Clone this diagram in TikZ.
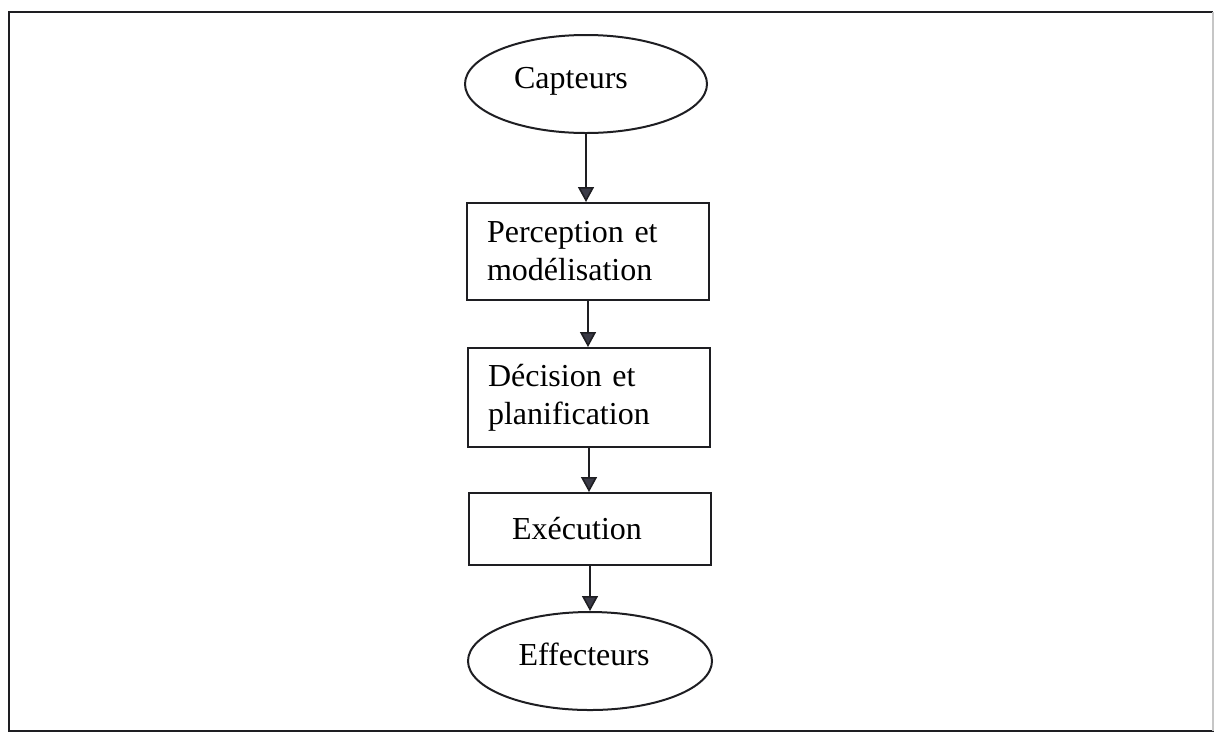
\documentclass[tikz,border=0pt]{standalone}
\usepackage{fontspec}
\setmainfont{Liberation Serif}
\usetikzlibrary{shapes.geometric,arrows.meta}
\definecolor{ink}{HTML}{1E1E22}
\definecolor{headfill}{HTML}{3A3A46}
\begin{document}
\begin{tikzpicture}[x=1pt,y=-1pt,
  txt/.style={font=\fontsize{32pt}{38pt}\selectfont, text=black},
  oval/.style={ellipse, draw=ink, line width=2pt, txt, minimum width=242pt, minimum height=98pt, inner sep=0pt, text height=22pt, text depth=14pt},
  stepbox/.style={rectangle, draw=ink, line width=2pt, txt, minimum width=242pt, inner sep=0pt},
  leftbox/.style={stepbox, align=left, text width=202pt, inner xsep=20pt},
  flow/.style={draw=ink, line width=1.6pt, -{Triangle[width=16pt,length=15pt,fill=headfill]}}
]
\useasboundingbox (0,0) rectangle (1214,732);
% outer frame
\draw[ink, line width=1.8pt] (1213,12) -- (9,12) -- (9,731) -- (1214,731);
\draw[gray!45, line width=1.2pt] (1213,12) -- (1213,731);

\node[oval] (cap) at (586,84) {Capteurs\hspace*{30pt}};
\node[leftbox, minimum height=97pt] (per) at (588,251.5) {Perception et\\mod\'elisation};
\node[leftbox, minimum height=99pt] (dec) at (589,397.5) {D\'ecision et\\planification};
\node[stepbox, minimum height=72pt] (exe) at (590,529) {Ex\'ecution\hspace*{26pt}};
\node[oval, minimum width=244pt] (eff) at (590,661) {Effecteurs\hspace*{12pt}};

\draw[flow] (cap.south) -- (cap.south |- per.north);
\draw[flow] (per.south) -- (per.south |- dec.north);
\draw[flow] (dec.south) -- (dec.south |- exe.north);
\draw[flow] (exe.south) -- (exe.south |- eff.north);
\end{tikzpicture}
\end{document}
